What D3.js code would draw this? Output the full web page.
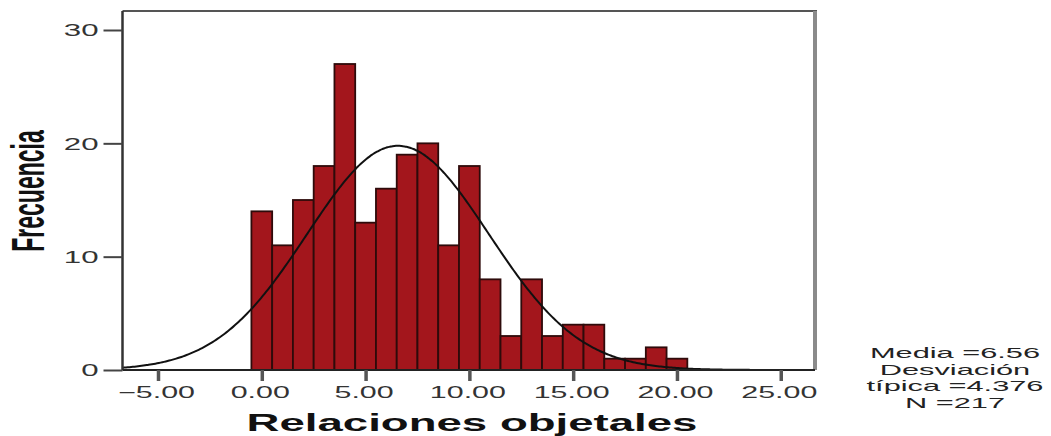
<!DOCTYPE html>
<html>
<head>
<meta charset="utf-8">
<script src="https://cdn.jsdelivr.net/npm/d3@7"></script>
<style>
  html, body { margin: 0; padding: 0; background: #fff; }
  svg { display: block; }
  text { font-family: "Liberation Sans", Arial, sans-serif; }
</style>
</head>
<body>
<svg id="chart" width="1051" height="436"></svg>
<script>
// ---- data ----
const binCenters = [0,1,2,3,4,5,6,7,8,9,10,11,12,13,14,15,16,17,18,19,20];
const frequencies = [14,11,15,18,27,13,16,19,20,11,18,8,3,8,3,4,4,1,1,2,1];
const xTicks = [-5,0,5,10,15,20,25];
const yTicks = [0,10,20,30];
const statLines = ["Media =6.56", "Desviación", "típica =4.376", "N =217"];
const mean = 6.56, sd = 4.376, n = 217, binWidth = 1;
const xTitle = "Relaciones objetales";
const yTitle = "Frecuencia";

// ---- layout ----
const svg = d3.select("#chart");
const pLeft = 122.5, pRight = 815, pTop = 11, pBottom = 370;
const xMin = -6.71, xMax = 26.65;
const SX = 1.95; // horizontal stretch of text

const x = d3.scaleLinear().domain([xMin, xMax]).range([pLeft, pRight]);
const y = d3.scaleLinear().domain([0, 30]).range([pBottom, 30]);

// plot frame: top and right
svg.append("line").attr("x1", pLeft).attr("x2", pRight + 2).attr("y1", pTop).attr("y2", pTop)
  .attr("stroke", "#555").attr("stroke-width", 2);
svg.append("line").attr("x1", pRight).attr("x2", pRight).attr("y1", pTop).attr("y2", pBottom)
  .attr("stroke", "#8a8a8a").attr("stroke-width", 4);

// bars
svg.append("g").selectAll("rect").data(binCenters).join("rect")
  .attr("x", (d) => x(d - binWidth / 2))
  .attr("width", (d) => x(d + binWidth / 2) - x(d - binWidth / 2))
  .attr("y", (d, i) => y(frequencies[i]))
  .attr("height", (d, i) => y(0) - y(frequencies[i]))
  .attr("fill", "#a3161c")
  .attr("stroke", "#2e0b0b")
  .attr("stroke-width", 1.8);

// normal curve
const curveXs = d3.range(0, 401).map(i => xMin + (xMax - xMin) * i / 400);
const pdf = v => n * binWidth * Math.exp(-0.5 * ((v - mean) / sd) ** 2) / (sd * Math.sqrt(2 * Math.PI));
svg.append("path")
  .datum(curveXs)
  .attr("d", d3.line().x(d => x(d)).y(d => y(pdf(d))).curve(d3.curveBasis))
  .attr("fill", "none").attr("stroke", "#111").attr("stroke-width", 2);

// y axis
const yAxis = svg.append("g").attr("transform", `translate(${pLeft},0)`)
  .call(d3.axisLeft(y).tickValues(yTicks).tickSize(19).tickFormat(d3.format("d")));
yAxis.select(".domain").attr("stroke", "#333").attr("stroke-width", 2.5)
  .attr("d", `M0,${pTop}V${pBottom}`);
yAxis.selectAll(".tick line").attr("stroke", "#444").attr("stroke-width", 2);
yAxis.selectAll(".tick text").remove();
yAxis.selectAll(".tick").append("text")
  .attr("transform", `translate(-24,0) scale(${SX},1)`)
  .attr("text-anchor", "end").attr("dy", "0.36em")
  .attr("font-size", 16).attr("fill", "#333")
  .text(d => d3.format("d")(d));

// x axis
const xAxis = svg.append("g").attr("transform", `translate(0,${pBottom})`)
  .call(d3.axisBottom(x).tickValues(xTicks).tickSize(11));
xAxis.select(".domain").attr("stroke", "#222").attr("stroke-width", 2)
  .attr("d", `M${pLeft},0H${pRight}`);
xAxis.selectAll(".tick line").attr("stroke", "#555").attr("stroke-width", 3.5);
xAxis.selectAll(".tick text").remove();
xAxis.selectAll(".tick").append("text")
  .attr("transform", `translate(-2,28) scale(1.9,1)`)
  .attr("text-anchor", "middle")
  .attr("font-size", 16).attr("fill", "#333")
  .text(d => d3.format(".2f")(d));

// axis titles
svg.append("text")
  .attr("transform", `translate(472,431) scale(1.9,1)`)
  .attr("text-anchor", "middle").attr("font-size", 24).attr("font-weight", "bold")
  .attr("fill", "#111").text(xTitle);

svg.append("text")
  .attr("transform", `translate(44,191) scale(2,1) rotate(-90)`)
  .attr("text-anchor", "middle").attr("font-size", 23).attr("font-weight", "bold")
  .attr("fill", "#111").text(yTitle);

// stats
svg.append("g").selectAll("text").data(statLines).join("text")
  .attr("transform", (d, i) => `translate(955,${358 + i * 16.5}) scale(2.05,1)`)
  .attr("text-anchor", "middle").attr("font-size", 15).attr("fill", "#222")
  .text(d => d);
</script>
</body>
</html>
